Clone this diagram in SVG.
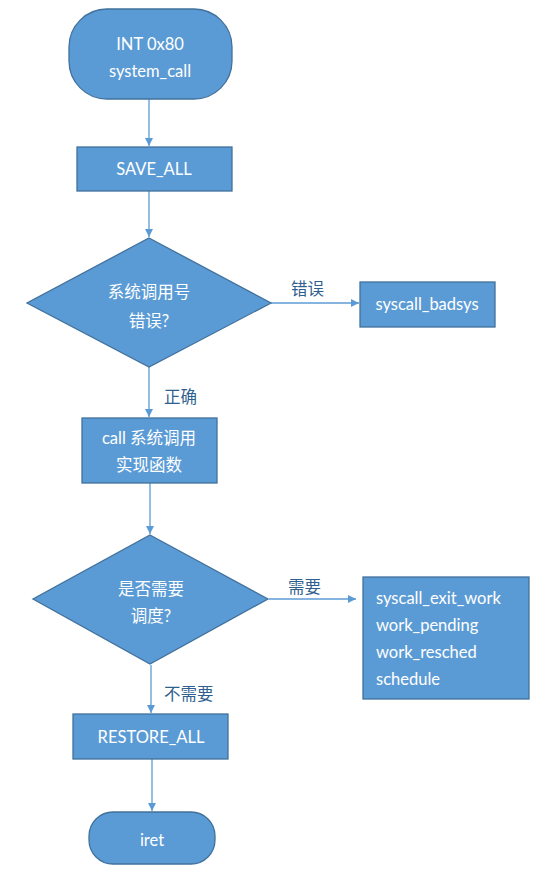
<svg xmlns="http://www.w3.org/2000/svg" width="555" height="876" viewBox="0 0 555 876">
<defs>
<style>
.n{fill:#5B9BD5;stroke:#41719C;stroke-width:1.3}
.t{font-family:Lato,"Noto Sans CJK SC",sans-serif;font-size:16.5px;fill:#fff;text-anchor:middle;dominant-baseline:central}
.tl{font-family:Lato,"Noto Sans CJK SC",sans-serif;font-size:16.5px;fill:#fff;dominant-baseline:central}
.lb{font-family:Lato,"Noto Sans CJK SC",sans-serif;font-size:16.5px;fill:#2F5F8F;dominant-baseline:central}
.c{stroke:#5B9BD5;stroke-width:1.3;fill:none;marker-end:url(#ah)}
</style>
<marker id="ah" viewBox="0 0 10 10" refX="10" refY="5" markerWidth="8" markerHeight="8" markerUnits="userSpaceOnUse" orient="auto">
<path d="M0,0 L10,5 L0,10 z" fill="#5B9BD5"/>
</marker>
</defs>
<rect width="555" height="876" fill="#fff"/>
<g id="connectors">
<line class="c" x1="149" y1="99" x2="149" y2="146"/>
<line class="c" x1="149" y1="191" x2="149" y2="237"/>
<line class="c" x1="271" y1="303" x2="359" y2="303"/>
<line class="c" x1="149" y1="367" x2="149" y2="417"/>
<line class="c" x1="150" y1="483" x2="150" y2="534"/>
<line class="c" x1="269" y1="599" x2="356" y2="599"/>
<line class="c" x1="151" y1="665" x2="151" y2="713"/>
<line class="c" x1="152" y1="759" x2="152" y2="811"/>
<text class="lb" x="291" y="289">错误</text>
<text class="lb" x="164" y="397">正确</text>
<text class="lb" x="288" y="587">需要</text>
<text class="lb" x="164" y="694">不需要</text>
</g>
<g id="start">
<rect class="n" x="69" y="9" width="163" height="90" rx="38" ry="38"/>
<text class="t" x="150" y="44">INT 0x80</text>
<text class="t" x="150" y="71">system_call</text>
</g>
<g id="save_all">
<rect class="n" x="77" y="147" width="155" height="44"/>
<text class="t" x="154" y="169">SAVE_ALL</text>
</g>
<g id="check_nr">
<polygon class="n" points="149,238 271,303 149,367 27,303"/>
<text class="t" x="149" y="292">系统调用号</text>
<text class="t" x="149" y="321">错误?</text>
</g>
<g id="badsys">
<rect class="n" x="360" y="282" width="135" height="45"/>
<text class="t" x="427" y="304">syscall_badsys</text>
</g>
<g id="call">
<rect class="n" x="82" y="418" width="135" height="65"/>
<text class="t" x="149" y="438">call 系统调用</text>
<text class="t" x="149" y="465">实现函数</text>
</g>
<g id="check_sched">
<polygon class="n" points="150,535 268,599 150,664 33,599"/>
<text class="t" x="151" y="589">是否需要</text>
<text class="t" x="151" y="616">调度?</text>
</g>
<g id="work">
<rect class="n" x="363" y="577" width="166" height="122"/>
<text class="tl" x="376" y="598">syscall_exit_work</text>
<text class="tl" x="376" y="625">work_pending</text>
<text class="tl" x="376" y="652">work_resched</text>
<text class="tl" x="376" y="679">schedule</text>
</g>
<g id="restore_all">
<rect class="n" x="73" y="714" width="155" height="45"/>
<text class="t" x="151" y="737">RESTORE_ALL</text>
</g>
<g id="iret">
<rect class="n" x="89" y="812" width="126" height="52" rx="24" ry="24"/>
<text class="t" x="152" y="840">iret</text>
</g>
</svg>
